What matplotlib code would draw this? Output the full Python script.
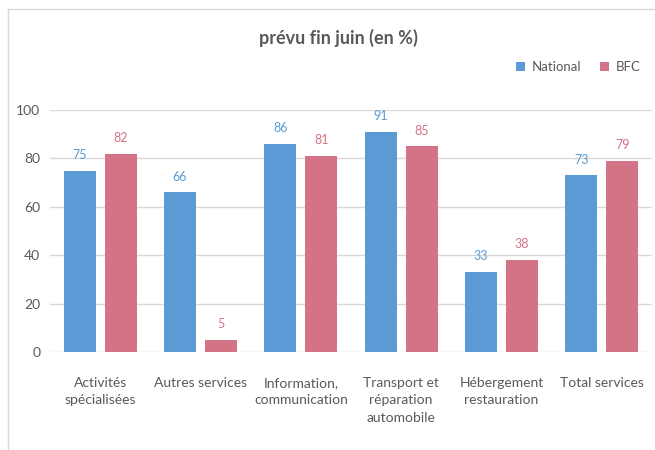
import matplotlib
matplotlib.use("Agg")
import matplotlib.pyplot as plt
from matplotlib.lines import Line2D
import numpy as np

categories = ["Activités\nspécialisées", "Autres services", "Information,\ncommunication",
              "Transport et\nréparation\nautomobile", "Hébergement\nrestauration", "Total services"]
national = [75, 66, 86, 91, 33, 73]
bfc = [82, 5, 81, 85, 38, 79]
yticks = [0, 20, 40, 60, 80, 100]

blue = "#5B9BD5"
red = "#D47385"
gray = "#595959"

plt.rcParams['font.family'] = ['Lato', 'DejaVu Sans']

fig = plt.figure(figsize=(6.55, 4.5), dpi=100)
ax = fig.add_axes([50/655, 98/450, 602/655, 242/450])

x = np.arange(len(categories))
w = 0.32
off = 0.205
b1 = ax.bar(x - off, national, w, color=blue, label="National", zorder=3)
b2 = ax.bar(x + off, bfc, w, color=red, label="BFC", zorder=3)

for rect, v in zip(b1, national):
    ax.text(rect.get_x() + rect.get_width()/2, v + 4, str(v), ha="center", va="bottom",
            color=blue, fontsize=9)
for rect, v in zip(b2, bfc):
    ax.text(rect.get_x() + rect.get_width()/2, v + 4, str(v), ha="center", va="bottom",
            color=red, fontsize=9)

ax.set_xlim(-0.5, len(categories) - 0.5)
ax.set_ylim(0, 100)
ax.set_yticks(yticks)
ax.set_xticks(x)
ax.set_xticklabels(categories, fontsize=10, color=gray, linespacing=1.55, va="top")
ax.tick_params(axis="y", labelsize=10, labelcolor=gray, length=0, pad=7)
ax.tick_params(axis="x", length=0, pad=18)
ax.grid(axis="y", color="#D9D9D9", linewidth=1, zorder=0)
for s in ax.spines.values():
    s.set_visible(False)

fig.text(338/655, 1 - 38/450, "prévu fin juin (en %)", ha="center", va="center",
         fontsize=13, fontweight="bold", color=gray)

leg = ax.legend(loc="center", bbox_to_anchor=(578/655, 1 - 67/450), bbox_transform=fig.transFigure,
                ncol=2, frameon=False, fontsize=9.5, handlelength=0.7, handleheight=0.7,
                handletextpad=0.5, columnspacing=1.4)
for t in leg.get_texts():
    t.set_color(gray)

fig.add_artist(Line2D([8/655, 8/655], [0, 1 - 9/450], transform=fig.transFigure,
                      color="#D9D9D9", linewidth=1))
fig.add_artist(Line2D([8/655, 1], [1 - 9/450, 1 - 9/450], transform=fig.transFigure,
                      color="#D9D9D9", linewidth=1))

fig.savefig("out.png", dpi=100)
